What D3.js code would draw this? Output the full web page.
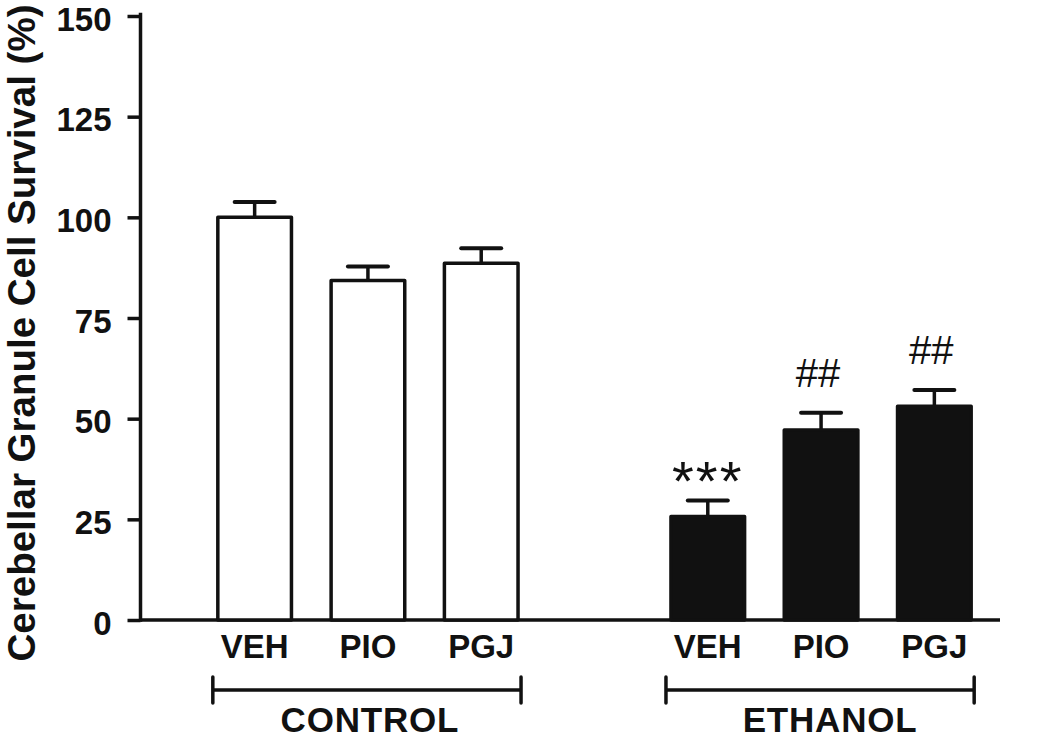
<!DOCTYPE html>
<html>
<head>
<meta charset="utf-8">
<script src="https://cdn.jsdelivr.net/npm/d3@7"></script>
<style>
  html, body { margin: 0; padding: 0; background: #fff; }
  svg { display: block; }
  text { font-family: "Liberation Sans", Arial, sans-serif; fill: #111; }
</style>
</head>
<body>
<svg id="chart" width="1050" height="740"></svg>
<script>
// ---- data ----
const groups = ["CONTROL", "ETHANOL"];
const treatments = ["VEH", "PIO", "PGJ"];
const controlMeans = [100, 84.3, 88.6];
const controlSEM = [3.8, 3.5, 3.7];
const ethanolMeans = [25.7, 47.2, 53.1];
const ethanolSEM = [4.0, 4.3, 4.0];
const ethanolMarks = ["***", "##", "##"];
const yTicks = [0, 25, 50, 75, 100, 125, 150];
const yTitle = "Cerebellar Granule Cell Survival (%)";

const bars = [];
treatments.forEach((t, i) => bars.push({ key: "C-" + t, group: groups[0], label: t, mean: controlMeans[i], sem: controlSEM[i], mark: "" }));
treatments.forEach((t, i) => bars.push({ key: "E-" + t, group: groups[1], label: t, mean: ethanolMeans[i], sem: ethanolSEM[i], mark: ethanolMarks[i] }));

const slots = ["C-VEH", "C-PIO", "C-PGJ", "gap", "E-VEH", "E-PIO", "E-PGJ"];

const svg = d3.select("#chart");
const axisX = 140.5, y0 = 620, yTop = 16;

const y = d3.scaleLinear().domain([0, 150]).range([y0, yTop]);
const x = d3.scaleBand().domain(slots)
  .range([198, 991]).paddingInner(0.35).paddingOuter(0.175);

// y axis
const yAxis = svg.append("g").attr("transform", `translate(${axisX},0)`)
  .call(d3.axisLeft(y).tickValues(yTicks).tickSize(13).tickPadding(16).tickFormat(d3.format("d")));
yAxis.select(".domain").remove();
yAxis.selectAll(".tick line").attr("stroke", "#111").attr("stroke-width", 3.5);
yAxis.selectAll(".tick text").attr("font-size", 33).attr("font-weight", "bold").attr("dy", "0.43em")
  .attr("font-family", "'Liberation Sans', Arial, sans-serif").attr("fill", "#111");

svg.append("line").attr("x1", axisX).attr("x2", axisX).attr("y1", yTop - 1.5).attr("y2", y0)
  .attr("stroke", "#111").attr("stroke-width", 3.5).attr("stroke-linecap", "square");
svg.append("line").attr("x1", axisX).attr("x2", 1000).attr("y1", y0).attr("y2", y0)
  .attr("stroke", "#111").attr("stroke-width", 3.5);

// error bars (behind bars)
const bw = x.bandwidth();
const eb = svg.append("g").selectAll("g").data(bars).join("g");
eb.append("line")
  .attr("x1", d => x(d.key) + bw / 2).attr("x2", d => x(d.key) + bw / 2)
  .attr("y1", d => y(d.mean)).attr("y2", d => y(d.mean + d.sem))
  .attr("stroke", "#111").attr("stroke-width", 3.5);
eb.append("line")
  .attr("x1", d => x(d.key) + bw / 2 - 20).attr("x2", d => x(d.key) + bw / 2 + 20)
  .attr("y1", d => y(d.mean + d.sem)).attr("y2", d => y(d.mean + d.sem))
  .attr("stroke", "#111").attr("stroke-width", 4).attr("stroke-linecap", "round");

// bars
svg.append("g").selectAll("rect").data(bars).join("rect")
  .attr("x", d => x(d.key)).attr("width", bw)
  .attr("y", d => y(d.mean)).attr("height", d => y0 - y(d.mean))
  .attr("fill", d => d.group === "CONTROL" ? "#fff" : "#111")
  .attr("stroke", "#111").attr("stroke-width", 3.5).attr("stroke-linejoin", "round");

// significance marks
svg.append("g").selectAll("text").data(bars.filter(d => d.mark)).join("text")
  .attr("x", d => x(d.key) + bw / 2 - (d.mark === "***" ? 0 : 3))
  .attr("y", d => y(d.mean + d.sem) - (d.mark === "***" ? 0 : 26))
  .attr("text-anchor", "middle")
  .attr("font-family", d => d.mark === "***" ? "'Liberation Sans', Arial, sans-serif" : "'Liberation Serif', 'Times New Roman', serif")
  .attr("font-size", d => d.mark === "***" ? 56 : 40)
  .attr("letter-spacing", d => d.mark === "***" ? 2 : 0)
  .text(d => d.mark);

// category labels
svg.append("g").selectAll("text").data(bars).join("text")
  .attr("x", d => x(d.key) + bw / 2).attr("y", 658)
  .attr("text-anchor", "middle").attr("font-size", 33).attr("font-weight", "bold")
  .text(d => d.label);

// group brackets
const groupLabelShift = [3, 10];
groups.forEach((g, gi) => {
  const keys = bars.filter(d => d.group === g).map(d => d.key);
  const xa = x(keys[0]) - 5, xb = x(keys[keys.length - 1]) + bw + 3;
  const br = svg.append("g").attr("stroke", "#111").attr("stroke-width", 3.5);
  br.append("line").attr("x1", xa).attr("x2", xb).attr("y1", 690).attr("y2", 690);
  br.append("line").attr("x1", xa).attr("x2", xa).attr("y1", 677).attr("y2", 703).attr("stroke-linecap", "round");
  br.append("line").attr("x1", xb).attr("x2", xb).attr("y1", 677).attr("y2", 703).attr("stroke-linecap", "round");
  svg.append("text").attr("x", (xa + xb) / 2 + groupLabelShift[gi]).attr("y", 732)
    .attr("text-anchor", "middle").attr("font-size", 35).attr("font-weight", "bold")
    .attr("letter-spacing", 0.8).text(g);
});

// y title
svg.append("text").attr("transform", "translate(35,333) rotate(-90)")
  .attr("text-anchor", "middle").attr("font-size", 38.5).attr("font-weight", "bold")
  .text(yTitle);
</script>
</body>
</html>
